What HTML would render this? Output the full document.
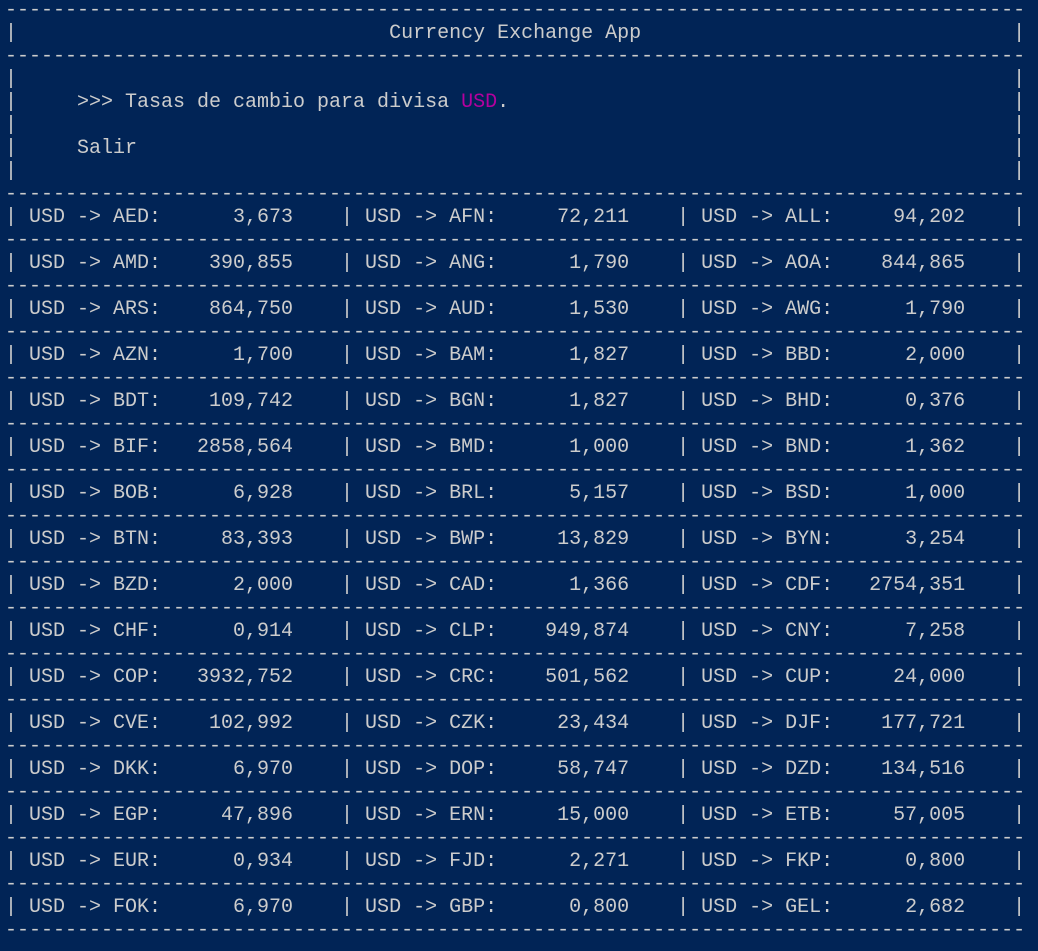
<!DOCTYPE html>
<html><head><meta charset="utf-8"><style>
html,body{margin:0;padding:0;background:#012456;width:1038px;height:951px;overflow:hidden}
#term{position:absolute;left:5px;top:-1px;font-family:"Liberation Mono",monospace;font-size:20px;line-height:23px;color:#cccccc;white-space:pre}
.ln{height:23px}
.usd{color:#b4009e}
</style></head><body>
<div id="term"></div>
<script>
const codes = ["AED","AFN","ALL","AMD","ANG","AOA","ARS","AUD","AWG","AZN","BAM","BBD","BDT","BGN","BHD","BIF","BMD","BND","BOB","BRL","BSD","BTN","BWP","BYN","BZD","CAD","CDF","CHF","CLP","CNY","COP","CRC","CUP","CVE","CZK","DJF","DKK","DOP","DZD","EGP","ERN","ETB","EUR","FJD","FKP","FOK","GBP","GEL"];
const rates = ["3,673","72,211","94,202","390,855","1,790","844,865","864,750","1,530","1,790","1,700","1,827","2,000","109,742","1,827","0,376","2858,564","1,000","1,362","6,928","5,157","1,000","83,393","13,829","3,254","2,000","1,366","2754,351","0,914","949,874","7,258","3932,752","501,562","24,000","102,992","23,434","177,721","6,970","58,747","134,516","47,896","15,000","57,005","0,934","2,271","0,800","6,970","0,800","2,682"];
const term = document.getElementById('term');
const dash = '-'.repeat(85);
function add(text, name, html){
  const d = document.createElement('div');
  d.className = 'ln';
  
  
  if (html) d.innerHTML = text; else d.textContent = text;
  term.appendChild(d);
  return d;
}
function pad(s,n){while(s.length<n)s+=' ';return s;}
add(dash,'separator-line');
add(pad('|'+' '.repeat(31)+'Currency Exchange App',84)+'|','app-title');
add(dash,'separator-line');
add(pad('|',84)+'|','empty-line');
add('|     &gt;&gt;&gt; Tasas de cambio para divisa <span class="usd">USD</span>.'+' '.repeat(84-42)+'|','menu-option-rates',true);
add(pad('|',84)+'|','empty-line');
add(pad('|     Salir',84)+'|','menu-option-exit');
add(pad('|',84)+'|','empty-line');
add(dash,'separator-line');
for(let r=0;r<codes.length/3;r++){
  let s='';
  for(let c=0;c<3;c++){
    const i=r*3+c;
    let v=rates[i]; while(v.length<10) v=' '+v;
    s+='| USD -> '+codes[i]+': '+v+'    ';
  }
  s+='|';
  add(s,'rate-row');
  add(dash,'separator-line');
}
</script>
</body></html>
